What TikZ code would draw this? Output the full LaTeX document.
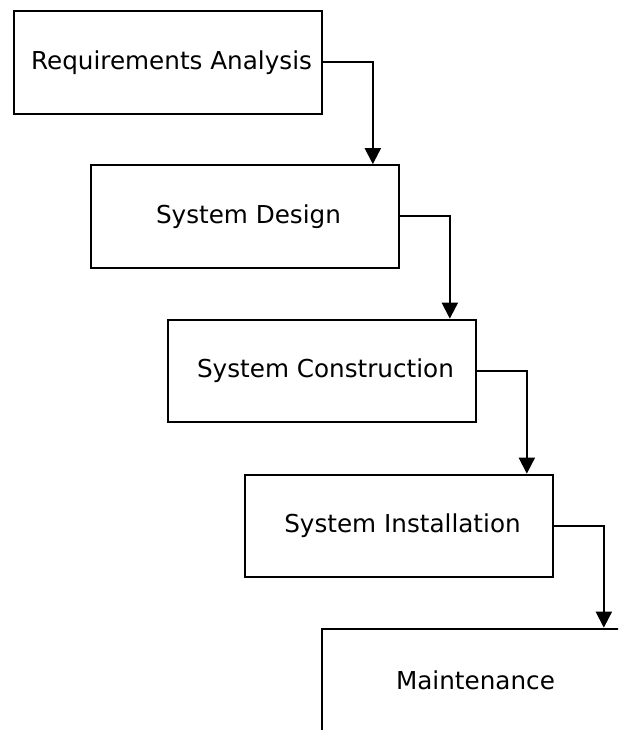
\documentclass[tikz,border=0pt]{standalone}
\usepackage{fontspec}
\setmainfont{DejaVu Sans}
\usepackage{tikz}
\usetikzlibrary{arrows.meta, positioning, calc}
\tikzset{
	phase/.style    ={rectangle, draw=black, line width=1.5pt, minimum width=231pt, minimum height=77pt, text centered, align=center, fill=white},
	flowarrow/.style={-{Triangle[length=12pt, width=12pt]}, line width=1.5pt},
}

\begin{document}
\begin{tikzpicture}[x=0.75pt, y=-0.75pt, font=\fontsize{18.5}{21}\selectfont]
					\clip (0,0) rectangle (618,730);
					\fill[white] (0,0) rectangle (618,730);
					\node[phase] (req) at (167.5,62.5) {\hspace*{6pt}Requirements Analysis};
					\node[phase] (des) at (244.5,216.5) {\hspace*{6pt}System Design};
					\node[phase] (con) at (321.5,371) {\hspace*{6pt}System Construction};
					\node[phase] (ins) at (398.5,526) {\hspace*{6pt}System Installation};
					\node[phase] (mnt) at (475.5,680) {Maintenance};
					\draw[flowarrow] (req.east) -| ([xshift=-20pt]des.north east);
					\draw[flowarrow] (des.east) -| ([xshift=-20pt]con.north east);
					\draw[flowarrow] (con.east) -| ([xshift=-20pt]ins.north east);
					\draw[flowarrow] (ins.east) -| ([xshift=-20pt]mnt.north east);
				\end{tikzpicture}
\end{document}
